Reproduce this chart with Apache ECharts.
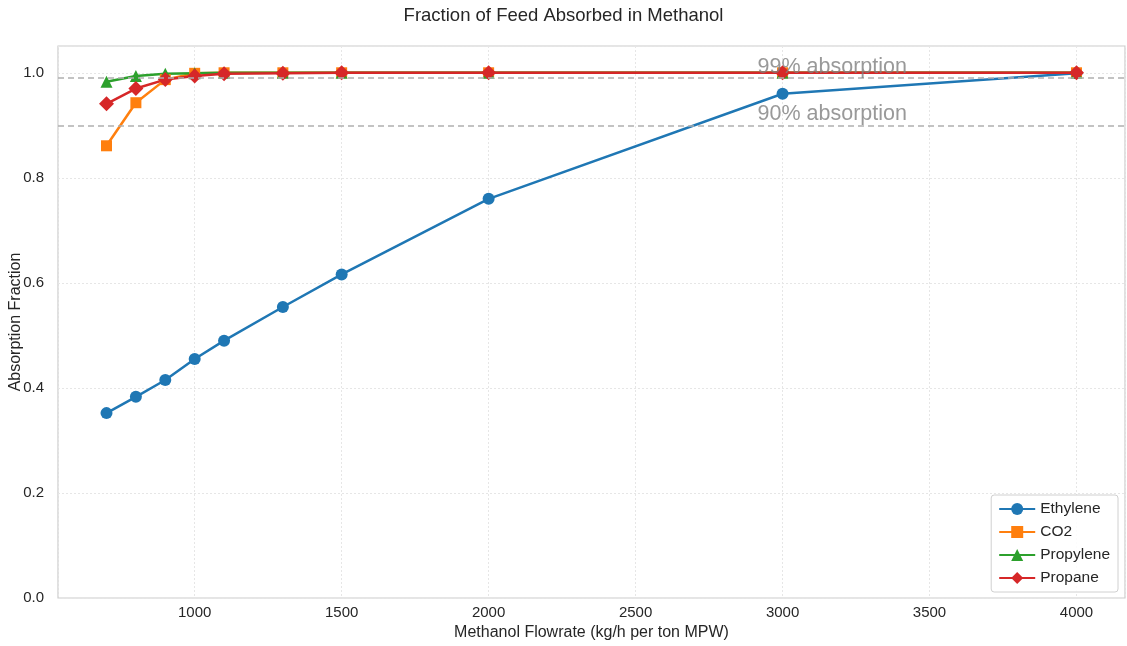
<!DOCTYPE html>
<html>
<head>
<meta charset="utf-8">
<script src="https://cdn.jsdelivr.net/npm/echarts@6/dist/echarts.min.js"></script>
<style>html,body{margin:0;padding:0;background:#fff}#c{width:1127px;height:646px}</style>
</head>
<body>
<div id="c"></div>
<script>
const flowrates = [700, 800, 900, 1000, 1100, 1300, 1500, 2000, 3000, 4000];
const ethylene  = [0.352, 0.383, 0.415, 0.455, 0.490, 0.554, 0.616, 0.760, 0.960, 0.999];
const co2       = [0.861, 0.943, 0.987, 0.999, 1.0, 1.0, 1.0, 1.0, 1.0, 1.0];
const propylene = [0.983, 0.994, 0.998, 0.999, 1.0, 1.0, 1.0, 1.0, 1.0, 1.0];
const propane   = [0.941, 0.970, 0.987, 0.994, 0.998, 0.999, 1.0, 1.0, 1.0, 1.0];
const thresholds = [0.99, 0.90];
const thresholdLabels = ['99% absorption', '90% absorption'];
const labelX = 2915;

const font = 'Liberation Sans, Arial, sans-serif';
const zip = arr => flowrates.map((x, i) => [x, arr[i]]);

function lineSeries(name, data, color, symbol, size) {
  return {
    name, type: 'line', data: zip(data),
    symbol, symbolSize: size,
    lineStyle: { color, width: 2.5 },
    itemStyle: { color },
    emphasis: { disabled: true },
    z: 3
  };
}

const chart = echarts.init(document.getElementById('c'), null, { renderer: 'canvas' });
chart.setOption({
  animation: false,
  backgroundColor: '#ffffff',
  title: {
    text: 'Fraction of Feed Absorbed in Methanol',
    left: 'center', top: 1,
    textStyle: { fontFamily: font, fontSize: 18.5, fontWeight: 'normal', color: '#262626' }
  },
  grid: {
    left: 58, right: 2, top: 46, bottom: 48,
    outerBoundsMode: 'none', containLabel: false,
    show: true, borderColor: '#cccccc', borderWidth: 1.2
  },
  legend: {
    right: 9, bottom: 54, orient: 'vertical',
    backgroundColor: 'rgba(255,255,255,0.85)',
    borderColor: '#d0d0d0', borderWidth: 1, borderRadius: 3,
    padding: [6, 8, 6, 7], itemGap: 7,
    itemWidth: 36, itemHeight: 15,
    textStyle: { fontFamily: font, fontSize: 15.5, color: '#262626' },
    data: ['Ethylene', 'CO2', 'Propylene', 'Propane']
  },
  xAxis: {
    type: 'value', min: 535, max: 4165, splitNumber: 7,
    name: 'Methanol Flowrate (kg/h per ton MPW)', nameLocation: 'middle', nameGap: 27,
    nameMoveOverlap: false,
    nameTextStyle: { fontFamily: font, fontSize: 16, color: '#262626' },
    axisLine: { show: false }, axisTick: { show: false },
    axisLabel: { showMinLabel: false, showMaxLabel: false, fontFamily: font, fontSize: 15, color: '#262626', margin: 7,
      formatter: v => String(v) },
    splitLine: { show: true, lineStyle: { color: '#e6e6e6', type: [2, 2], width: 1 } }
  },
  yAxis: {
    type: 'value', min: 0, max: 1.051, interval: 0.2,
    name: 'Absorption Fraction', nameLocation: 'middle', nameGap: 34,
    nameMoveOverlap: false,
    nameTextStyle: { fontFamily: font, fontSize: 16, color: '#262626' },
    axisLine: { show: false }, axisTick: { show: false },
    axisLabel: { showMaxLabel: false, fontFamily: font, fontSize: 15, color: '#262626', margin: 14,
      formatter: v => v.toFixed(1) },
    splitLine: { show: true, lineStyle: { color: '#e6e6e6', type: [2, 2], width: 1 } }
  },
  series: [
    {
      name: 'thresholds', type: 'line', data: [], silent: true,
      markLine: {
        silent: true, symbol: 'none', animation: false,
        lineStyle: { color: '#b0b0b0', type: [6, 4], width: 1.5 },
        label: { show: false },
        data: thresholds.map(v => ({ yAxis: v }))
      },
      z: 1
    },
    {
      name: 'labels', type: 'scatter', silent: true, symbolSize: 0,
      data: thresholds.map((v, i) => ({ value: [labelX, v], label: { formatter: thresholdLabels[i] } })),
      label: { show: true, position: 'insideBottomLeft', offset: [0, 0], distance: 0,
        fontFamily: font, fontSize: 21.5, color: '#808080',
        align: 'left', verticalAlign: 'bottom' },
      z: 5
    },
    lineSeries('Ethylene', ethylene, '#1f77b4', 'circle', 12),
    lineSeries('CO2', co2, '#ff7f0e', 'rect', 11),
    lineSeries('Propylene', propylene, '#2ca02c', 'triangle', 12),
    lineSeries('Propane', propane, '#d62728', 'diamond', 15)
  ]
});
</script>
</body>
</html>
